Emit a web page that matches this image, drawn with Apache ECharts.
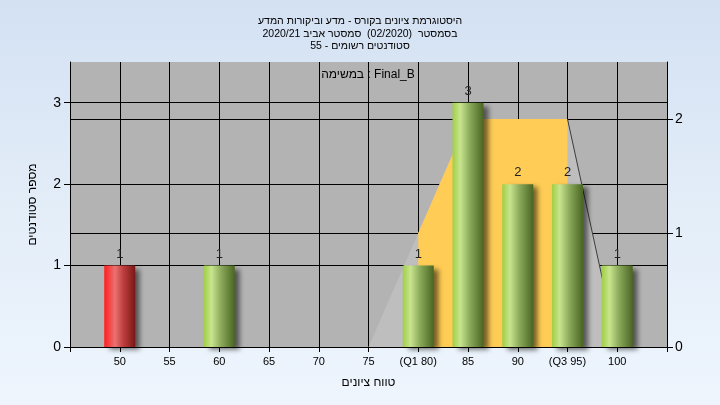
<!DOCTYPE html>
<html>
<head>
<meta charset="utf-8">
<script src="https://cdn.jsdelivr.net/npm/echarts@6/dist/echarts.min.js"></script>
<style>
html,body{margin:0;padding:0;}
body{width:720px;height:405px;background:linear-gradient(to bottom,#d3e1f3 0%,#e3edf8 50%,#eef5fd 100%);}
#c{width:720px;height:405px;}
</style>
</head>
<body>
<div id="c"></div>
<script>
const titleLines = ['היסטוגרמת ציונים בקורס - מדע וביקורות המדע', 'בסמסטר  (02/2020)  סמסטר אביב 2020/21', 'סטודנטים רשומים - 55'];
const taskLabel = 'במשימה : Final_B';
const xAxisName = 'טווח ציונים';
const yAxisName = 'מספר סטודנטים';
const scoreBins = [50, 55, 60, 65, 70, 75, 80, 85, 90, 95, 100];
const studentCounts = [1, 0, 1, 0, 0, 0, 1, 3, 2, 2, 1];
const failLimit = 55;
const q1 = 80, q3 = 95;
const curveX = [75, 80, 85, 95, 100];
const curveY = [0, 1, 2, 2, 0];
const leftTicks = [0, 1, 2, 3];
const rightTicks = [0, 1, 2];

const FONT = 'Liberation Sans';
const greenGrad = new echarts.graphic.LinearGradient(0, 0, 1, 0, [
  {offset: 0, color: '#9fcf45'}, {offset: 0.25, color: '#c8e48e'},
  {offset: 0.55, color: '#8cab5c'}, {offset: 1, color: '#4a6522'}]);
const redGrad = new echarts.graphic.LinearGradient(0, 0, 1, 0, [
  {offset: 0, color: '#ff1e1e'}, {offset: 0.35, color: '#ea7272'},
  {offset: 0.6, color: '#c04040'}, {offset: 1, color: '#7a1616'}]);

const barData = [];
scoreBins.forEach((b, i) => {
  if (studentCounts[i] > 0) {
    barData.push({value: [b, studentCounts[i]], itemStyle: {color: b < failLimit ? redGrad : greenGrad}});
  }
});
const curveAll = curveX.map((x, i) => [x, curveY[i]]);
const curveMid = curveAll.filter(p => p[0] >= q1 && p[0] <= q3);
const curveRight = curveAll.filter(p => p[0] >= q3);

const chart = echarts.init(document.getElementById('c'), null, {renderer: 'canvas'});
chart.setOption({
  animation: false,
  backgroundColor: 'transparent',
  textStyle: {fontFamily: FONT},
  title: {
    text: titleLines.join('\n'), left: 'center', top: 10,
    textStyle: {fontSize: 10.5, fontWeight: 'normal', color: '#000', lineHeight: 12.5, fontFamily: FONT}
  },
  graphic: [{
    type: 'text', x: 368, y: 75,
    style: {text: taskLabel, fontSize: 12, fill: '#000', align: 'center', verticalAlign: 'middle', fontFamily: FONT}
  }],
  grid: {left: 70, right: 53, top: 62, bottom: 58, show: true, backgroundColor: '#b3b3b3', borderWidth: 0},
  xAxis: {
    type: 'value', min: 45, max: 105, interval: 5,
    name: xAxisName, nameLocation: 'middle', nameGap: 30,
    nameTextStyle: {fontSize: 12, color: '#000', fontFamily: FONT},
    axisLine: {show: true, onZero: false, lineStyle: {color: '#000', width: 1}},
    axisTick: {show: true, length: 5, lineStyle: {color: '#000'}},
    axisLabel: {
      fontSize: 11, color: '#000', margin: 9,
      formatter: v => v === q1 ? '(Q1 ' + v + ')' : v === q3 ? '(Q3 ' + v + ')' : (scoreBins.indexOf(v) >= 0 ? String(v) : '')
    },
    splitLine: {show: true, lineStyle: {color: '#000', width: 1}}
  },
  yAxis: [{
    type: 'value', min: 0, max: 3.5, interval: 1, position: 'left',
    name: yAxisName, nameLocation: 'middle', nameGap: 31, nameRotate: 90,
    nameTextStyle: {fontSize: 12, color: '#000', fontFamily: FONT},
    axisLine: {show: true, lineStyle: {color: '#000'}},
    axisTick: {show: true, length: 6, lineStyle: {color: '#000'}, customValues: leftTicks},
    axisLabel: {fontSize: 14, color: '#000', margin: 9, customValues: leftTicks},
    splitLine: {show: false}
  }, {
    type: 'value', min: 0, max: 2.5, interval: 1, position: 'right',
    axisLine: {show: true, lineStyle: {color: '#000'}},
    axisTick: {show: true, length: 6, lineStyle: {color: '#000'}, customValues: rightTicks},
    axisLabel: {fontSize: 14, color: '#000', margin: 8, customValues: rightTicks},
    splitLine: {show: false}
  }],
  series: [{
    type: 'line', yAxisIndex: 0, data: [[45, 0]], symbol: 'none', z: 0,
    lineStyle: {width: 0}, silent: true,
    markLine: {silent: true, symbol: 'none', z: 0, label: {show: false},
      lineStyle: {color: '#000', width: 1, type: 'solid'},
      emphasis: {disabled: true},
      data: leftTicks.filter(v => v > 0).map(v => ({yAxis: v}))}
  }, {
    type: 'line', yAxisIndex: 1, data: [[45, 0]], symbol: 'none', z: 0,
    lineStyle: {width: 0}, silent: true,
    markLine: {silent: true, symbol: 'none', z: 0, label: {show: false},
      lineStyle: {color: '#000', width: 1, type: 'solid'},
      emphasis: {disabled: true},
      data: rightTicks.filter(v => v > 0).map(v => ({yAxis: v}))}
  }, {
    type: 'line', yAxisIndex: 1, data: curveAll, symbol: 'none', z: 2, silent: true,
    lineStyle: {width: 0, color: '#bebebe'}, areaStyle: {color: '#bebebe', opacity: 1}
  }, {
    type: 'line', yAxisIndex: 1, data: curveMid, symbol: 'none', z: 3, silent: true,
    lineStyle: {width: 0, color: '#ffcc55'}, areaStyle: {color: '#ffcc55', opacity: 1}
  }, {
    type: 'line', yAxisIndex: 1, data: curveRight, symbol: 'none', z: 4, silent: true,
    lineStyle: {width: 1, color: '#3c3c3c'}
  }, {
    type: 'bar', yAxisIndex: 0, data: barData, barWidth: 31, z: 5,
    itemStyle: {shadowColor: 'rgba(0,0,0,0.55)', shadowBlur: 5, shadowOffsetX: 5, shadowOffsetY: 3},
    label: {show: true, position: 'top', distance: 5, fontSize: 13, color: '#222', fontFamily: FONT,
      formatter: p => p.value[1]}
  }]
});
</script>
</body>
</html>
